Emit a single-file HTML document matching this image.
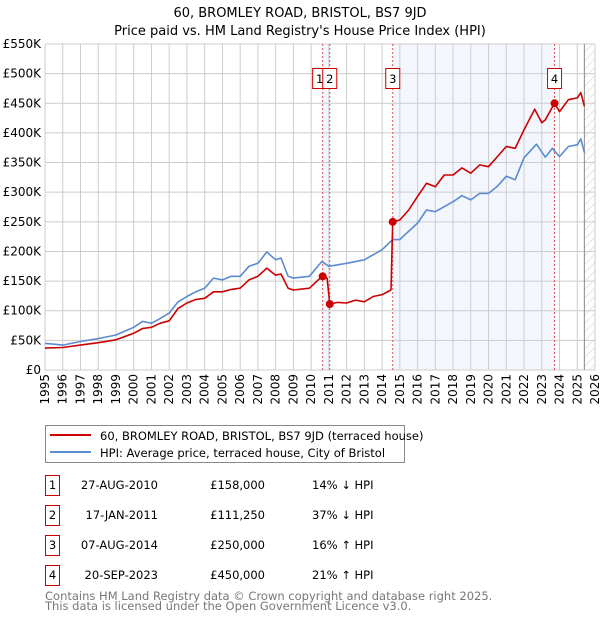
<!DOCTYPE html>
<html><head><meta charset="utf-8"><style>
body{margin:0;background:#fff;font-family:"DejaVu Sans","Liberation Sans",sans-serif;}
svg text{font-family:"DejaVu Sans","Liberation Sans",sans-serif;}
</style></head><body>
<svg id="c" width="600" height="620" xmlns="http://www.w3.org/2000/svg">
<defs><pattern id="hatch" width="6" height="6" patternUnits="userSpaceOnUse" patternTransform="rotate(45)"><line x1="0" y1="0" x2="0" y2="6" stroke="#ccc" stroke-width="1"/></pattern></defs>
<text x="300" y="17" text-anchor="middle" font-size="13">60, BROMLEY ROAD, BRISTOL, BS7 9JD</text>
<text x="300" y="35" text-anchor="middle" font-size="13">Price paid vs. HM Land Registry's House Price Index (HPI)</text>
<g id="plot"></g>
<g>
<rect x="45.5" y="425.5" width="359" height="37" fill="#fff" stroke="#888"/>
<line x1="50" y1="435" x2="91" y2="435" stroke="#cc0000" stroke-width="2"/>
<text x="100" y="440" font-size="11.5">60, BROMLEY ROAD, BRISTOL, BS7 9JD (terraced house)</text>
<line x1="50" y1="452" x2="91" y2="452" stroke="#5b8bd0" stroke-width="2"/>
<text x="100" y="457" font-size="11.5">HPI: Average price, terraced house, City of Bristol</text>
</g>
<g id="tbl" font-size="11.5"></g>
<text x="45" y="600" font-size="11.5" fill="#777">Contains HM Land Registry data © Crown copyright and database right 2025.</text>
<text x="45" y="610" font-size="11.5" fill="#777">This data is licensed under the Open Government Licence v3.0.</text>
</svg>
<script>
const hpiYears=[1995,1996,1997,1998,1999,2000,2000.5,2001,2001.5,2002,2002.5,2003,2003.5,2004,2004.5,2005,2005.5,2006,2006.5,2007,2007.5,2008,2008.3,2008.7,2009,2009.9,2010.6,2011,2012,2013,2014,2014.6,2015,2016,2016.5,2017,2018,2018.5,2019,2019.5,2020,2020.5,2021,2021.5,2022,2022.7,2023.2,2023.6,2024,2024.5,2025,2025.2,2025.4];
const hpiValues=[45,42,48,53,59,72,82,79,87,96,115,124,132,138,155,152,158,158,175,180,199,186,189,158,155,158,183,175,180,186,203,220,220,248,270,267,284,294,287,298,298,310,327,321,358,381,359,374,360,377,380,390,367];
const propYears=[1995,1996,1997,1998,1999,2000,2000.5,2001,2001.5,2002,2002.5,2003,2003.5,2004,2004.5,2005,2005.5,2006,2006.5,2007,2007.5,2008,2008.3,2008.7,2009,2009.9,2010.4,2010.65,2010.9,2011.05,2011.5,2012,2012.5,2013,2013.5,2014,2014.5,2014.6,2015,2015.5,2016,2016.5,2017,2017.5,2018,2018.5,2019,2019.5,2020,2020.5,2021,2021.5,2022,2022.6,2023,2023.2,2023.72,2024,2024.5,2025,2025.2,2025.4];
const propValues=[37,38,42,46,51,62,70,72,79,83,104,113,119,121,132,132,136,138,152,158,172,160,162,138,135,138,152,158,155,111.25,114,113,118,115,124,127,135,250,253,270,293,315,309,329,329,341,332,346,343,360,377,374,405,440,417,422,450,436,456,459,468,445];
const saleLabels=["1","2","3","4"];
const saleYears=[2010.65,2011.05,2014.6,2023.72];
const saleValues=[158,111.25,250,450];
const saleDates=["27-AUG-2010","17-JAN-2011","07-AUG-2014","20-SEP-2023"];
const salePrices=["£158,000","£111,250","£250,000","£450,000"];
const saleDiffs=["14% ↓ HPI","37% ↓ HPI","16% ↑ HPI","21% ↑ HPI"];
const yTicks=[0,50,100,150,200,250,300,350,400,450,500,550];
const yTickLabels=["£0","£50K","£100K","£150K","£200K","£250K","£300K","£350K","£400K","£450K","£500K","£550K"];
const xTicks=[1995,1996,1997,1998,1999,2000,2001,2002,2003,2004,2005,2006,2007,2008,2009,2010,2011,2012,2013,2014,2015,2016,2017,2018,2019,2020,2021,2022,2023,2024,2025,2026];
const NS="http://www.w3.org/2000/svg";
const X0=45,X1=595,Y0=370,Y1=44;
const xs=y=>X0+(y-1995)/(2026-1995)*(X1-X0);
const ys=v=>Y0-v/550*(Y0-Y1);
const plot=document.getElementById('plot');
function mk(tag,attrs,parent){const e=document.createElementNS(NS,tag);for(const k in attrs)e.setAttribute(k,attrs[k]);(parent||plot).appendChild(e);return e;}
// shading
let r=mk('rect',{x:xs(saleYears[0]),y:Y1,width:xs(saleYears[1])-xs(saleYears[0]),height:Y0-Y1,fill:'#eef3fc',opacity:0.7});


r=mk('rect',{x:xs(saleYears[2]),y:Y1,width:xs(saleYears[3])-xs(saleYears[2]),height:Y0-Y1,fill:'#eef3fc',opacity:0.7});


r=mk('rect',{x:xs(2025.4),y:Y1,width:X1-xs(2025.4),height:Y0-Y1,fill:'url(#hatch)'});


// grid
xTicks.forEach((t,i)=>{
 const l=mk('line',{x1:xs(t),x2:xs(t),y1:Y1,y2:Y0,stroke:'#ccc','stroke-width':1});
 
 
 const tx=mk('text',{x:0,y:0,'font-size':12,'text-anchor':'end',transform:`translate(${xs(t)+4},374) rotate(-90)`});
 tx.textContent=t;
 
 
});
yTicks.forEach((t,i)=>{
 const l=mk('line',{x1:X0,x2:X1,y1:ys(t),y2:ys(t),stroke:'#ccc','stroke-width':1});
 
 
 const tx=mk('text',{x:X0-4,y:ys(t)+4,'font-size':12,'text-anchor':'end'});
 tx.textContent=yTickLabels[i];
 
 
});
let vl=mk('line',{x1:xs(2025.4),x2:xs(2025.4),y1:Y1,y2:Y0,stroke:'#888','stroke-width':1});


// sale lines
saleYears.forEach((s,i)=>{
 const l=mk('line',{x1:xs(s),x2:xs(s),y1:Y1,y2:Y0,stroke:'#e05050','stroke-width':1,'stroke-dasharray':'2,2'});
 
 
});
function path(xa,va,color,name){
 const d=xa.map((y,i)=>(i?'L':'M')+xs(y).toFixed(1)+','+ys(va[i]).toFixed(1)).join('');
 const p=mk('path',{d:d,fill:'none',stroke:color,'stroke-width':1.6,'stroke-linejoin':'round'});
 
 
}
path(hpiYears,hpiValues,'#5b8bd0','hpi-line');
path(propYears,propValues,'#cc0000','property-line');
saleYears.forEach((s,i)=>{
 const c=mk('circle',{cx:xs(s),cy:ys(saleValues[i]),r:4,fill:'#cc0000'});
 
 
 const bx=xs(s)-(i==0?12:i==1?0:7)-(i==1?0:0);
 const g=mk('g',{});
 
 
 const x0=i==0?xs(s)-10:(i==1?xs(s)-7:xs(s)-7);
 mk('rect',{x:x0,y:68.5,width:14,height:20,fill:'#fff',stroke:'#cc0000'},g);
 const t=mk('text',{x:x0+7,y:83,'font-size':11.5,'text-anchor':'middle'},g);
 t.textContent=saleLabels[i];
});
// table
const tbl=document.getElementById('tbl');
saleLabels.forEach((lab,i)=>{
 const y=475+i*30;
 const g=mk('g',{},tbl);
 
 
 mk('rect',{x:45.5,y:y+0.5,width:14,height:20,fill:'#fff',stroke:'#cc0000'},g);
 let t=mk('text',{x:52.5,y:y+14,'text-anchor':'middle'},g);t.textContent=lab;
 t=mk('text',{x:158,y:y+14,'text-anchor':'end'},g);t.textContent=saleDates[i];
 t=mk('text',{x:265,y:y+14,'text-anchor':'end'},g);t.textContent=salePrices[i];
 t=mk('text',{x:312,y:y+14},g);t.textContent=saleDiffs[i];
});
</script>
</body></html>
